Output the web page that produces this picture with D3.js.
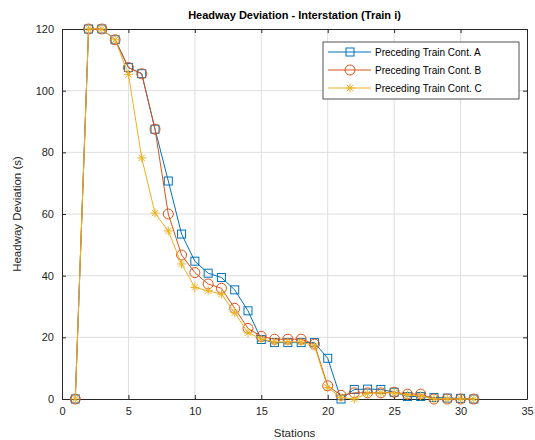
<!DOCTYPE html>
<html>
<head>
<meta charset="utf-8">
<script src="https://cdn.jsdelivr.net/npm/d3@7"></script>
<style>
  body { margin: 0; background: #fff; }
  svg { font-family: "Liberation Sans", Arial, sans-serif; }
  .grid line { stroke: #dedede; stroke-width: 1; }
</style>
</head>
<body>
<div id="chart"></div>
<script>
// Station numbers and headway deviation (s) for each control scheme
const stations = d3.range(1, 32);
const contA = [0, 120, 120, 116.5, 107.5, 105.5, 87.5, 70.7, 53.5, 44.7, 40.8, 39.4, 35.4, 28.6, 19.3, 18.3, 18.3, 18.3, 18.3, 13.2, 0, 3.1, 3.2, 3.1, 2.2, 0.8, 0.8, 0.5, 0.3, 0.2, 0];
const contB = [0, 120, 120, 116.5, 107.5, 105.5, 87.5, 60, 46.7, 41, 37.3, 35.9, 29.4, 22.9, 20.3, 19.4, 19.4, 19.4, 17.8, 4.3, 1.2, 2, 2, 2, 2.2, 1.6, 1.6, 0, 0, 0, 0];
const contC = [0, 120, 120, 116.5, 105.3, 78.2, 60.3, 54.5, 43.8, 36.2, 35.1, 34, 28, 21.5, 19.5, 18.5, 18.5, 18.5, 17.2, 3.7, 0.5, 0, 1.8, 2, 2, 1.3, 1, 0, 0, 0, 0];
const xTicks = [0, 5, 10, 15, 20, 25, 30, 35];
const yTicks = [0, 20, 40, 60, 80, 100, 120];

const series = [
  { name: "Preceding Train Cont. A", values: contA, color: "#0072BD", marker: "square" },
  { name: "Preceding Train Cont. B", values: contB, color: "#D95319", marker: "circle" },
  { name: "Preceding Train Cont. C", values: contC, color: "#EDB120", marker: "star" }
];

const width = 535, height = 440;
const margin = { left: 62, right: 8, top: 29, bottom: 41 };

const svg = d3.select("#chart").append("svg")
  .attr("width", width)
  .attr("height", height);

const x = d3.scaleLinear().domain([0, 35]).range([margin.left, width - margin.right]);
const y = d3.scaleLinear().domain([0, 120]).range([height - margin.bottom, margin.top]);

// grid
const grid = svg.append("g").attr("class", "grid");
grid.selectAll(".gx").data(xTicks.slice(1, -1)).enter().append("line")
  .attr("x1", d => x(d)).attr("x2", d => x(d))
  .attr("y1", y(0)).attr("y2", y(120));
grid.selectAll(".gy").data(yTicks.slice(1, -1)).enter().append("line")
  .attr("y1", d => y(d)).attr("y2", d => y(d))
  .attr("x1", x(0)).attr("x2", x(35));

// axes, ticks pointing inward like matlab
svg.append("g")
  .attr("transform", `translate(0,${y(0)})`)
  .call(d3.axisBottom(x).tickValues(xTicks).tickSizeInner(-4).tickSizeOuter(0).tickPadding(8));
svg.append("g")
  .attr("transform", `translate(${x(0)},0)`)
  .call(d3.axisLeft(y).tickValues(yTicks).tickSizeInner(-4).tickSizeOuter(0).tickPadding(8));
svg.append("g")
  .attr("transform", `translate(0,${y(120)})`)
  .call(d3.axisTop(x).tickValues(xTicks).tickSizeInner(-4).tickSizeOuter(0).tickFormat(""));
svg.append("g")
  .attr("transform", `translate(${x(35)},0)`)
  .call(d3.axisRight(y).tickValues(yTicks).tickSizeInner(-4).tickSizeOuter(0).tickFormat(""));

svg.selectAll(".domain").attr("stroke", "#262626");
svg.selectAll(".tick line").attr("stroke", "#262626");
svg.selectAll(".tick text").attr("fill", "#262626").style("font-size", "11px");

// lines
const line = d3.line().x((d, i) => x(stations[i])).y(d => y(d));

function drawMarker(g, type, color) {
  if (type === "square") {
    g.append("rect").attr("x", -4).attr("y", -4).attr("width", 8).attr("height", 8)
      .attr("fill", "none").attr("stroke", color).attr("stroke-width", 1);
  } else if (type === "circle") {
    g.append("circle").attr("r", 5)
      .attr("fill", "none").attr("stroke", color).attr("stroke-width", 1);
  } else {
    const r = 4.5, q = r * 0.707;
    g.append("path")
      .attr("d", `M${-r},0L${r},0M0,${-r}L0,${r}M${-q},${-q}L${q},${q}M${-q},${q}L${q},${-q}`)
      .attr("stroke", color).attr("stroke-width", 1).attr("fill", "none");
  }
}

series.forEach(s => {
  svg.append("path")
    .datum(s.values)
    .attr("d", line)
    .attr("fill", "none")
    .attr("stroke", s.color)
    .attr("stroke-width", 1);
  svg.append("g").selectAll("g").data(s.values).enter().append("g")
    .attr("transform", (d, i) => `translate(${x(stations[i])},${y(d)})`)
    .each(function() { drawMarker(d3.select(this), s.marker, s.color); });
});

// title and labels
svg.append("text")
  .attr("x", (x(0) + x(35)) / 2).attr("y", 19)
  .attr("text-anchor", "middle")
  .style("font-size", "11px").style("font-weight", "bold")
  .attr("fill", "#000")
  .text("Headway Deviation - Interstation (Train i)");

svg.append("text")
  .attr("x", (x(0) + x(35)) / 2).attr("y", 437)
  .attr("text-anchor", "middle")
  .style("font-size", "11.5px").attr("fill", "#262626")
  .text("Stations");

svg.append("text")
  .attr("transform", `translate(21,${(y(0) + y(120)) / 2}) rotate(-90)`)
  .attr("text-anchor", "middle")
  .style("font-size", "11.5px").attr("fill", "#262626")
  .text("Headway Deviation (s)");

// legend
const legend = svg.append("g").attr("transform", "translate(323,42)");
legend.append("rect")
  .attr("width", 196).attr("height", 57)
  .attr("fill", "#fff").attr("stroke", "#262626").attr("stroke-width", 0.8);
series.forEach((s, i) => {
  const ly = 10 + i * 18;
  const row = legend.append("g").attr("transform", `translate(0,${ly})`);
  row.append("line").attr("x1", 5).attr("x2", 48).attr("stroke", s.color).attr("stroke-width", 1);
  drawMarker(row.append("g").attr("transform", "translate(27,0)"), s.marker, s.color);
  row.append("text").attr("x", 52).attr("y", 3.5)
    .style("font-size", "10px").attr("fill", "#000")
    .text(s.name);
});
</script>
</body>
</html>
